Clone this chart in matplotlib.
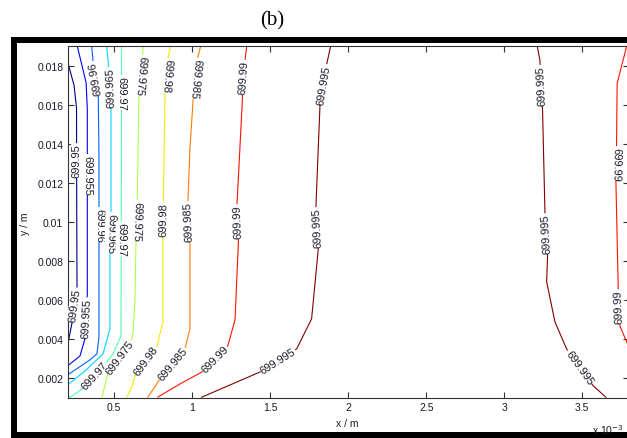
import numpy as np
import matplotlib
matplotlib.use('Agg')
import matplotlib.pyplot as plt
from matplotlib.patches import Rectangle

plt.rcParams['font.family'] = 'Liberation Sans'

# contour levels, one entry per drawn line (left to right)
levels = [699.95, 699.955, 699.96, 699.965, 699.97, 699.975,
          699.98, 699.985, 699.99, 699.995, 699.995, 699.99]

# contour line vertices (x in 1e-3 m, y in m)
x_l0 = [0.2, 0.242, 0.258, 0.259, 0.261, 0.229, 0.2]
y_l0 = [0.01823, 0.0170, 0.01582, 0.01121, 0.00669, 0.00485, 0.00367]
x_l1 = [0.263, 0.319, 0.327, 0.327, 0.312, 0.28, 0.2]
y_l1 = [0.019, 0.01715, 0.01582, 0.00633, 0.00403, 0.00315, 0.00264]
x_l2 = [0.355, 0.367, 0.397, 0.402, 0.402, 0.389, 0.344, 0.2]
y_l2 = [0.019, 0.01797, 0.01669, 0.01326, 0.00413, 0.00326, 0.00295, 0.00218]
x_l3 = [0.451, 0.472, 0.479, 0.479, 0.472, 0.472, 0.428, 0.312, 0.2]
y_l3 = [0.019, 0.01736, 0.01582, 0.01044, 0.00849, 0.00454, 0.00326, 0.00238, 0.00167]
x_l4 = [0.547, 0.545, 0.543, 0.492, 0.453, 0.293, 0.229, 0.2]
y_l4 = [0.019, 0.0112, 0.00418, 0.00326, 0.00285, 0.00146, 0.0011, 0.001]
x_l5 = [0.686, 0.658, 0.647, 0.639, 0.633, 0.62, 0.607, 0.46, 0.421]
y_l5 = [0.019, 0.01649, 0.01105, 0.00905, 0.00608, 0.0043, 0.00387, 0.00228, 0.00105]
x_l6 = [0.86, 0.844, 0.825, 0.815, 0.812, 0.812, 0.774, 0.633, 0.612, 0.581]
y_l6 = [0.019, 0.01838, 0.01659, 0.01121, 0.00915, 0.0049, 0.00367, 0.00213, 0.00156, 0.00105]
x_l7 = [1.054, 1.03, 1.006, 0.985, 0.972, 0.985, 0.985, 0.953, 0.793, 0.716]
y_l7 = [0.019, 0.01828, 0.01633, 0.01377, 0.01105, 0.0089, 0.00454, 0.00351, 0.00197, 0.00105]
x_l8 = [1.349, 1.338, 1.323, 1.287, 1.296, 1.274, 1.228, 1.062, 0.921, 0.78]
y_l8 = [0.019, 0.01828, 0.01654, 0.01095, 0.00905, 0.005, 0.00367, 0.00233, 0.00172, 0.00105]
x_l9 = [1.887, 1.862, 1.819, 1.793, 1.808, 1.765, 1.669, 1.434, 1.06]
y_l9 = [0.019, 0.01809, 0.01603, 0.01085, 0.00864, 0.00505, 0.00351, 0.00233, 0.00104]
x_l10 = [3.212, 3.229, 3.246, 3.261, 3.278, 3.272, 3.325, 3.4, 3.571, 3.652]
y_l10 = [0.019, 0.01828, 0.01567, 0.01054, 0.00828, 0.00695, 0.0049, 0.00351, 0.00162, 0.00104]
x_l11 = [3.785, 3.724, 3.72, 3.716, 3.731, 3.742, 3.785, 3.8]
y_l11 = [0.019, 0.0171, 0.01387, 0.01208, 0.00659, 0.00469, 0.00387, 0.00356]

xticks = [0.5, 1, 1.5, 2, 2.5, 3, 3.5]
xticklabels = ['0.5', '1', '1.5', '2', '2.5', '3', '3.5']
yticks = [0.002, 0.004, 0.006, 0.008, 0.010, 0.012, 0.014, 0.016, 0.018]
yticklabels = ['0.002', '0.004', '0.006', '0.008', '0.01', '0.012', '0.014', '0.016', '0.018']

lines = [(x_l0, y_l0), (x_l1, y_l1), (x_l2, y_l2), (x_l3, y_l3), (x_l4, y_l4),
         (x_l5, y_l5), (x_l6, y_l6), (x_l7, y_l7), (x_l8, y_l8), (x_l9, y_l9),
         (x_l10, y_l10), (x_l11, y_l11)]

# inline label spots (approx, snapped onto the line) and reading direction
label_spots = [
    [(0.261, 0.01315, 'up'), (0.245, 0.00577, 'up')],
    [(0.327, 0.01244, 'down'), (0.319, 0.0051, 'up')],
    [(0.381, 0.01736, 'up'), (0.402, 0.00987, 'down')],
    [(0.475, 0.0169, 'up'), (0.479, 0.00946, 'down')],
    [(0.547, 0.01664, 'down'), (0.546, 0.00915, 'down'), (0.373, 0.00215, 'up')],
    [(0.669, 0.01751, 'down'), (0.642, 0.01008, 'down'), (0.533, 0.00308, 'up')],
    [(0.835, 0.01751, 'down'), (0.814, 0.01018, 'up'), (0.703, 0.0029, 'up')],
    [(1.019, 0.01736, 'down'), (0.978, 0.01003, 'up'), (0.873, 0.00274, 'up')],
    [(1.331, 0.01741, 'up'), (1.29, 0.01003, 'up'), (1.145, 0.003, 'up')],
    [(1.84, 0.01705, 'up'), (1.80, 0.00972, 'up'), (1.549, 0.0029, 'up')],
    [(3.235, 0.017, 'up'), (3.27, 0.00941, 'up'), (3.485, 0.00259, 'down')],
    [(3.718, 0.013, 'down'), (3.735, 0.00567, 'up')],
]


def place_on_line(ax, xs, ys, x0, y0, mode):
    pts = ax.transData.transform(np.column_stack([xs, ys]))
    p = ax.transData.transform((x0, y0))
    best = None
    for a, b in zip(pts[:-1], pts[1:]):
        d = b - a
        t = np.clip(np.dot(p - a, d) / np.dot(d, d), 0, 1)
        q = a + t * d
        dist = np.linalg.norm(q - p)
        if best is None or dist < best[0]:
            best = (dist, q, d)
    ang = np.degrees(np.arctan2(best[2][1], best[2][0]))
    if mode == 'up':
        ang = ang + 180 if ang < 0 else ang
        ang = ang - 180 if ang >= 180 else ang
    else:
        ang = ang - 180 if ang > 0 else ang
    xd, yd = ax.transData.inverted().transform(best[1])
    return xd, yd, ang


fig = plt.figure(figsize=(6.27, 4.39), dpi=100)
ax = fig.add_axes([67.5 / 627, 40 / 439, (629 - 67.5) / 627, (399 - 47.3) / 439])
ax.set_xlim(0.2, 3.8)
ax.set_ylim(0.001, 0.019)

cols = plt.cm.jet(np.linspace(0, 1, 10))
for lev, (xs, ys), spots in zip(levels, lines, label_spots):
    c = cols[int(round((lev - 699.95) / 0.005))]
    ax.plot(xs, ys, color=c, lw=0.8, zorder=2)
    for x0, y0, mode in spots:
        xd, yd, ang = place_on_line(ax, xs, ys, x0, y0, mode)
        ax.text(xd, yd, f'{lev:g}', rotation=ang, rotation_mode='anchor',
                ha='center', va='center', fontsize=8, color='#1a1a2a', zorder=3,
                bbox=dict(boxstyle='square,pad=0.05', fc='white', ec='none'))

ax.set_xticks(xticks)
ax.set_xticklabels(xticklabels)
ax.set_yticks(yticks)
ax.set_yticklabels(yticklabels)
ax.tick_params(direction='in', length=4, width=0.8, top=True, right=True,
               labelsize=7.5, colors='#333333', labelcolor='#1a1a2a', pad=3)
for s in ax.spines.values():
    s.set_color('#333333')
    s.set_linewidth(0.8)

fig.text(347 / 627, 1 - 424 / 439, 'x / m', ha='center', va='center', fontsize=7.5, color='#1a1a2a')
fig.text(25 / 627, 1 - 224 / 439, 'y / m', ha='center', va='center', rotation=90,
         fontsize=7.5, color='#1a1a2a')
fig.text(624 / 627, 1 - 430 / 439, r'x 10$^{-3}$', ha='right', va='center', fontsize=7.5, color='#1a1a2a')
fig.text(272 / 627, 1 - 21 / 439, '(b)', ha='center', va='center', fontsize=15,
         family='Liberation Serif')

# thick black frame around the figure
W, H = 627.0, 439.0
for x0, y0, w, h in [(11, 38, 640, 6), (11, 38, 6, 420), (11, 433, 640, 10)]:
    fig.patches.append(Rectangle((x0 / W, 1 - (y0 + h) / H), w / W, h / H,
                                 transform=fig.transFigure, facecolor='black',
                                 edgecolor='none'))

plt.savefig('out.png', dpi=100)
plt.close()
